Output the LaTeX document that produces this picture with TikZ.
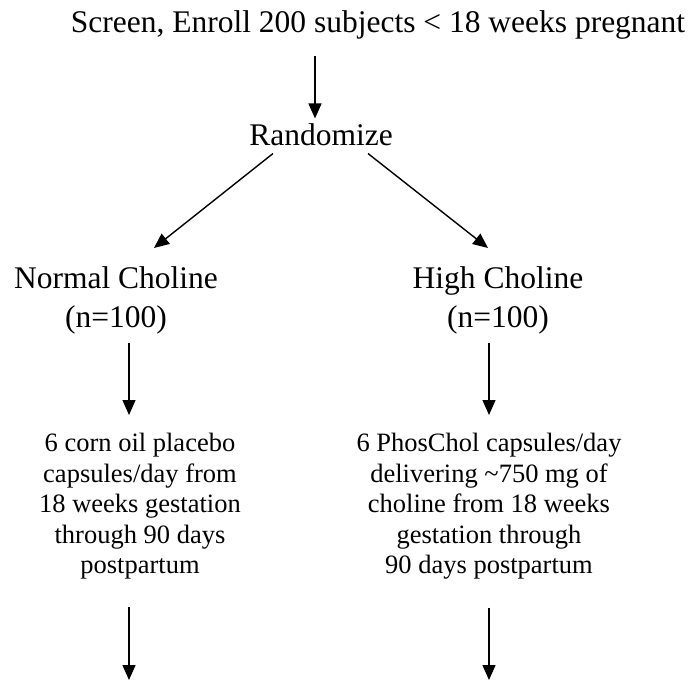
\documentclass[tikz,border=0pt]{standalone}
\usepackage{fontspec}
\setmainfont{Liberation Serif}
\usetikzlibrary{arrows.meta}
\tikzset{big/.style={inner sep=0pt,align=center,font=\fontsize{31.5}{39}\selectfont},
small/.style={inner sep=0pt,align=center,font=\fontsize{26.5}{30.5}\selectfont},
arr/.style={line width=1.4pt,-{Triangle[length=15pt,width=13pt]}}}
\begin{document}
\begin{tikzpicture}[x=1pt,y=-1pt]
\useasboundingbox (0,0) rectangle (698,681);
\node[big,anchor=base](screen) at (378,32) {Screen, Enroll 200 subjects < 18 weeks pregnant};
\node[big,anchor=base](rand) at (321,145) {Randomize};
\node[big,anchor=north](normal) at (116,266) {Normal Choline\\(n=100)};
\node[big,anchor=north](high) at (498,266) {High Choline\\(n=100)};
\node[small,anchor=north](placebo) at (140,433) {6 corn oil placebo\\capsules/day from\\18 weeks gestation\\through 90 days\\postpartum};
\node[small,anchor=north](phoschol) at (489,433) {6 PhosChol capsules/day\\delivering \textasciitilde750 mg of\\choline from 18 weeks\\gestation through\\90 days postpartum};
\coordinate (colA) at (315,0);
\coordinate (endL) at (129,680);
\coordinate (endR) at (489,680);
\draw[arr,shorten <=17pt,shorten >=4.5pt](screen.south -| colA)--(rand.north -| colA);
\draw[arr]([xshift=-48pt,yshift=-8pt]rand.south)--([xshift=38pt,yshift=18pt]normal.north);
\draw[arr]([xshift=47pt,yshift=-8pt]rand.south)--([xshift=-10pt,yshift=18pt]high.north);
\draw[arr]([xshift=13pt,yshift=-9pt]normal.south)--([xshift=-11pt,yshift=18pt]placebo.north);
\draw[arr]([xshift=-9pt,yshift=-9pt]high.south)--([yshift=18pt]phoschol.north);
\draw[arr]([yshift=-28pt]placebo.south -| endL)--(endL);
\draw[arr]([yshift=-28pt]phoschol.south -| endR)--(endR);
\end{tikzpicture}
\end{document}
